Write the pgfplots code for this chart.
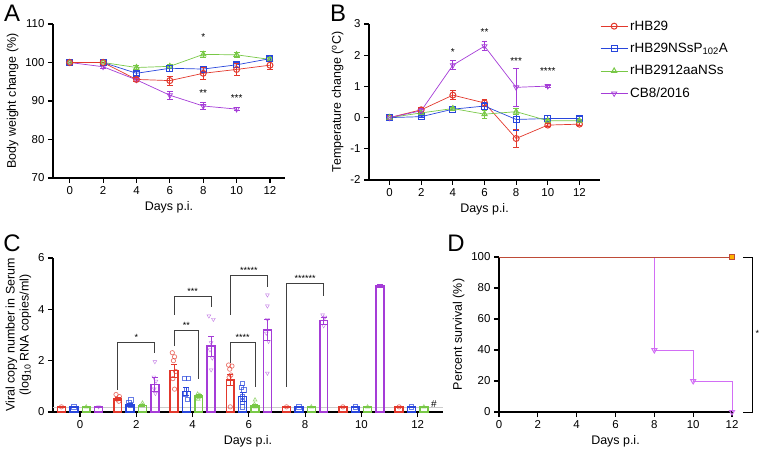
\documentclass[border=0pt]{standalone}
\usepackage{fontspec}
\setmainfont{Liberation Sans}
\usepackage{pgfplots}
\pgfplotsset{compat=1.18}
\definecolor{cR}{RGB}{226,56,44}
\definecolor{cB}{RGB}{40,70,220}
\definecolor{cG}{RGB}{120,200,70}
\definecolor{cP}{RGB}{165,60,215}
\definecolor{cPd}{RGB}{210,110,245}
\definecolor{cRd}{RGB}{190,75,55}
\pgfplotsset{
  gp/.style={
    scale only axis, clip=false,
    axis x line*=bottom, axis y line*=left,
    axis line style={line width=1.3pt,black,-},
    every tick/.style={line width=1.1pt,black},
    major tick length=5bp,
    tick align=outside,
    tick label style={font=\fontsize{11.5}{12}\selectfont},
    label style={font=\fontsize{12.5}{14}\selectfont},
    /pgf/number format/assume math mode=true,
  },
  ln/.style={line width=0.7pt, mark size=3pt, mark options={solid,line width=1pt},
    error bars/y dir=both, error bars/y explicit,
    error bars/error bar style={line width=0.8pt},
    error bars/error mark options={line width=0.8pt, mark size=3pt, rotate=90}},
  br/.style={ybar, bar width=0.14, bar shift=0pt, line width=1.5pt, fill=none,
    error bars/y dir=both, error bars/y explicit,
    error bars/error bar style={line width=0.9pt},
    error bars/error mark options={line width=0.9pt, mark size=3pt, rotate=90}},
  pts/.style={only marks, mark size=2.2pt, mark options={line width=0.7pt}, opacity=0.7},
}
\begin{document}
\begin{tikzpicture}
\useasboundingbox (0,0) rectangle (762bp,456bp);
% ---------------- Panel A
\begin{axis}[gp, at={(53bp,278bp)}, anchor=south west, width=232bp, height=154bp,
  xmin=-1, xmax=12.9, ymin=70, ymax=110,
  xtick={0,2,...,12}, ytick={70,80,...,110},
  xlabel={Days p.i.}, ylabel={Body weight change (\%)}]
\addplot[ln, cP, mark=triangle, mark options={rotate=180}] coordinates {(0,100) (2,98.9)+-(0,0.4) (4,95.5)+-(0,0.5) (6,91.5)+-(0,1.0) (8,88.7)+-(0,1.0) (10,87.9)+-(0,0.4)};
\addplot[ln, cG, mark=triangle] coordinates {(0,100) (2,100) (4,98.7)+-(0,0.5) (6,99.0)+-(0,0.5) (8,102.1)+-(0,0.9) (10,102)+-(0,0.7) (12,100.8)+-(0,0.5)};
\addplot[ln, cB, mark=square] coordinates {(0,100) (2,100) (4,97.2)+-(0,0.5) (6,98.5)+-(0,0.8) (8,98.3)+-(0,0.5) (10,99.4)+-(0,0.6) (12,101)+-(0,0.5)};
\addplot[ln, cR, mark=o] coordinates {(0,100) (2,100) (4,95.6)+-(0,0.5) (6,95.3)+-(0,1.2) (8,97.2)+-(0,1.5) (10,98.2)+-(0,1.5) (12,99.3)+-(0,1.0)};
\node[font=\fontsize{10}{10}\selectfont] at (axis cs:8,106.6) {*};
\node[font=\fontsize{10}{10}\selectfont] at (axis cs:8,92) {**};
\node[font=\fontsize{10}{10}\selectfont] at (axis cs:10,90.7) {***};
\end{axis}
% ---------------- Panel B
\begin{axis}[gp, at={(369bp,276bp)}, anchor=south west, width=231bp, height=156bp,
  xmin=-1.3, xmax=13.3, ymin=-2, ymax=3,
  xtick={0,2,...,12}, ytick={-2,-1,...,3},
  xlabel={Days p.i.}, ylabel={Temperature change (\textsuperscript{o}C)},
  legend style={at={(1.0,1.035)}, anchor=north west, draw=none, fill=none,
    font=\fontsize{13.5}{15}\selectfont, row sep=7.5bp, inner sep=0pt, cells={anchor=west}},
  legend image code/.code={\draw[mark repeat=2,mark phase=2,#1] plot coordinates {(0cm,0cm) (0.48cm,0cm) (0.96cm,0cm)};}]
\addplot[ln, cR, mark=o] coordinates {(0,0) (2,0.25)+-(0,0.08) (4,0.72)+-(0,0.15) (6,0.47)+-(0,0.1) (8,-0.67)+-(0,0.28) (10,-0.24)+-(0,0.05) (12,-0.21)+-(0,0.05)};
\addlegendentry{rHB29}
\addplot[ln, cB, mark=square] coordinates {(0,0) (2,0.03)+-(0,0.03) (4,0.27)+-(0,0.05) (6,0.37)+-(0,0.12) (8,-0.06)+-(0,0.36) (10,-0.03)+-(0,0.1) (12,-0.03)+-(0,0.06)};
\addlegendentry{rHB29NSsP\textsubscript{102}A}
\addplot[ln, cG, mark=triangle] coordinates {(0,0) (2,0.15)+-(0,0.05) (4,0.29)+-(0,0.05) (6,0.11)+-(0,0.13) (8,0.19)+-(0,0.1) (10,-0.1)+-(0,0.05) (12,-0.1)+-(0,0.05)};
\addlegendentry{rHB2912aaNSs}
\addplot[ln, cP, mark=triangle, mark options={rotate=180}] coordinates {(0,0) (2,0.22)+-(0,0.08) (4,1.68)+-(0,0.15) (6,2.29)+-(0,0.15) (8,0.97)+-(0,0.6) (10,1.01)+-(0,0.03)};
\addlegendentry{CB8/2016}
\node[font=\fontsize{10}{10}\selectfont] at (axis cs:4,2.1) {*};
\node[font=\fontsize{10}{10}\selectfont] at (axis cs:6,2.74) {**};
\node[font=\fontsize{10}{10}\selectfont] at (axis cs:8,1.81) {***};
\node[font=\fontsize{10}{10}\selectfont] at (axis cs:10,1.49) {****};
\end{axis}
% ---------------- Panel C
\begin{axis}[gp, at={(53bp,44bp)}, anchor=south west, width=390bp, height=154bp,
  xmin=-0.48, xmax=6.45, ymin=0, ymax=6,
  xtick={0,...,6}, xticklabels={0,2,4,6,8,10,12}, ytick={0,2,4,6},
  xlabel={Days p.i.}, ylabel style={align=center},
  ylabel={Viral copy number in Serum\\(log\textsubscript{10} RNA copies/ml)}]
\addplot[gray!40, line width=0.6pt] coordinates {(-0.48,0.18) (6.45,0.18)};
\addplot[br, cR] coordinates {(-0.33,0.2) (0.67,0.51)+-(0,0.06) (1.67,1.61)+-(0,0.26) (2.67,1.25)+-(0,0.23) (3.67,0.2) (4.67,0.2) (5.67,0.2)};
\addplot[br, cB] coordinates {(-0.11,0.2) (0.89,0.27)+-(0,0.05) (1.89,0.79)+-(0,0.15) (2.89,0.6)+-(0,0.18) (3.89,0.2) (4.89,0.2) (5.89,0.2)};
\addplot[br, cG] coordinates {(0.11,0.2) (1.11,0.25)+-(0,0.03) (2.11,0.62)+-(0,0.06) (3.11,0.23)+-(0,0.05) (4.11,0.2) (5.11,0.2) (6.11,0.2)};
\addplot[br, cP] coordinates {(0.33,0.2) (1.33,1.08)+-(0,0.27) (2.33,2.57)+-(0,0.39) (3.33,3.19)+-(0,0.42) (4.33,3.56)+-(0,0.13) (5.33,4.91)+-(0,0.05)};
% individual points
\addplot[pts, cR, mark=o] coordinates {(-0.33,0.2) (0.64,0.68) (0.70,0.6) (0.66,0.5) (0.69,0.42) (1.64,2.31) (1.68,2.15) (1.66,2.0) (1.70,1.58) (1.65,1.3) (1.68,0.89) (2.64,1.83) (2.70,1.79) (2.66,1.67) (2.68,1.44) (2.65,1.35) (2.67,0.2) (3.67,0.2) (4.67,0.2) (5.67,0.2)};
\addplot[pts, cB, mark=square] coordinates {(-0.11,0.2) (0.9,0.48) (0.87,0.35) (0.89,0.25) (1.85,1.3) (1.93,1.3) (1.89,0.89) (1.87,0.7) (1.91,0.5) (2.89,1.12) (2.87,0.95) (2.91,0.86) (2.89,0.6) (2.88,0.4) (2.89,0.2) (3.89,0.2) (4.89,0.2) (5.89,0.2)};
\addplot[pts, cG, mark=triangle] coordinates {(0.11,0.2) (1.11,0.35) (1.11,0.25) (2.09,0.7) (2.13,0.65) (2.11,0.58) (2.1,0.5) (3.11,0.47) (3.1,0.3) (3.11,0.2) (4.11,0.2) (5.11,0.2) (6.11,0.2)};
\addplot[pts, cP, mark=triangle, mark options={rotate=180}] coordinates {(0.33,0.2) (1.33,1.96) (1.31,1.36) (1.35,1.2) (1.32,0.9) (1.34,0.72) (2.29,3.74) (2.37,3.61) (2.33,2.7) (2.31,2.42) (2.35,2.1) (2.33,1.64) (3.33,4.56) (3.33,4.13) (3.33,3.61) (3.31,3.07) (3.35,2.75) (3.33,1.51) (4.31,3.78) (4.35,3.69) (4.33,3.36) (5.33,4.93)};
% brackets
\def\brk#1#2#3#4#5#6#7{\draw[line width=0.8pt, black!75] (axis cs:#1,#4) -- (axis cs:#1,#3) -- (axis cs:#2,#3) -- (axis cs:#2,#5);
  \node[font=\fontsize{9}{9}\selectfont, inner sep=0pt, anchor=south] at (axis cs:{(#1+#2)/2},#6) {#7};}
\brk{0.67}{1.33}{2.7}{0.86}{2.3}{2.76}{*}
\brk{1.67}{2.33}{4.52}{3.78}{4.1}{4.58}{***}
\brk{1.67}{2.11}{3.17}{2.57}{1.27}{3.23}{**}
\brk{2.67}{3.33}{5.34}{3.78}{4.86}{5.40}{*****}
\brk{2.67}{3.11}{2.7}{1.91}{0.96}{2.76}{****}
\brk{3.67}{4.33}{5.01}{0.99}{4.52}{5.07}{******}
\node[font=\fontsize{10}{10}\selectfont] at (axis cs:6.29,0.3) {\#};
\end{axis}
% ---------------- Panel D
\begin{axis}[gp, at={(499bp,44bp)}, anchor=south west, width=233bp, height=155bp,
  xmin=0, xmax=12, ymin=0, ymax=100,
  xtick={0,2,...,12}, ytick={0,20,...,100},
  xlabel={Days p.i.}, ylabel={Percent survival (\%)}]
\addplot[cPd, line width=0.8pt, const plot, mark=none] coordinates {(0,100) (8,40) (10,20) (12,0)};
\addplot[cPd, only marks, mark=triangle, mark options={rotate=180, line width=1pt}, mark size=3pt] coordinates {(8,40) (10,20) (12,0)};
\addplot[cRd, line width=0.8pt, mark=none] coordinates {(0,100) (12,100)};
\addplot[only marks, mark=square*, mark size=3pt, mark options={draw=cRd, fill=orange!60!yellow, line width=1pt}] coordinates {(12,100)};
\draw[line width=0.8pt] (axis cs:12.58,100) -- (axis cs:13.03,100) -- (axis cs:13.03,0) -- (axis cs:12.58,0);
\node[font=\fontsize{9}{9}\selectfont] at (axis cs:13.3,51) {*};
\end{axis}
% panel letters
\node[font=\fontsize{24}{24}\selectfont] at (12bp,442.5bp) {A};
\node[font=\fontsize{24}{24}\selectfont] at (338bp,442.5bp) {B};
\node[font=\fontsize{24}{24}\selectfont] at (12bp,212.5bp) {C};
\node[font=\fontsize{24}{24}\selectfont] at (456bp,212.5bp) {D};
\end{tikzpicture}
\end{document}
